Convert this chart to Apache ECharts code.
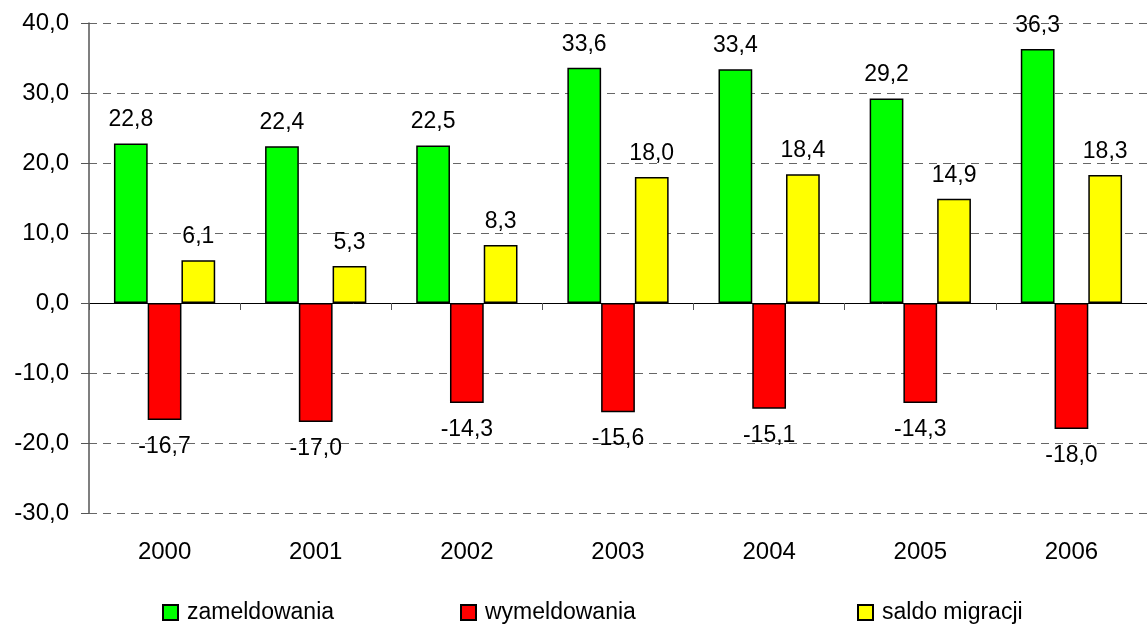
<!DOCTYPE html>
<html>
<head>
<meta charset="utf-8">
<script src="https://cdn.jsdelivr.net/npm/echarts@6/dist/echarts.min.js"></script>
<style>html,body{margin:0;padding:0;background:#fff;}#c{width:1147px;height:628px;}</style>
</head>
<body>
<div id="c"></div>
<script>
var years = ['2000','2001','2002','2003','2004','2005','2006'];
var zameldowania = [22.8, 22.4, 22.5, 33.6, 33.4, 29.2, 36.3];
var wymeldowania = [-16.7, -17.0, -14.3, -15.6, -15.1, -14.3, -18.0];
var saldo = [6.1, 5.3, 8.3, 18.0, 18.4, 14.9, 18.3];
var seriesNames = ['zameldowania', 'wymeldowania', 'saldo migracji'];
var colors = ['#00FF00', '#FF0000', '#FFFF00'];

var FONT = 'Liberation Sans, Arial, sans-serif';
function fmt(v){ return v.toFixed(1).replace('.', ','); }

var chart = echarts.init(document.getElementById('c'), null, {renderer:'canvas'});
function mkSeries(name, data, color, pos, dist){
  return {
    name: name, type: 'bar', data: data, xAxisIndex: 0,
    barGap: '0%', barCategoryGap: '33%',
    itemStyle: {color: color, borderColor: '#000', borderWidth: 1.5},
    label: {show: true, position: pos, distance: dist, color: '#000', fontFamily: FONT, fontSize: 23,
      formatter: function(p){ return fmt(p.value); }},
    emphasis: {disabled: true}
  };
}
function mkLegend(i, left){
  return {
    data: [seriesNames[i]], left: left, top: 601, padding: 0,
    icon: 'rect', itemWidth: 15, itemHeight: 15,
    textStyle: {fontFamily: FONT, fontSize: 23, color: '#000', padding: [0,0,0,4]},
    selectedMode: false
  };
}
chart.setOption({
  animation: false,
  backgroundColor: '#fff',
  grid: {left: 89, top: 23, width: 1066, height: 490, containLabel: false},
  legend: [mkLegend(0, 162), mkLegend(1, 460), mkLegend(2, 857)],
  xAxis: [
    {type: 'category', data: years, position: 'bottom',
     axisLine: {show: false, onZero: false}, axisTick: {show: false},
     axisLabel: {fontFamily: FONT, fontSize: 24, color: '#000', margin: 27},
     splitLine: {show: false}},
    {type: 'category', data: years, position: 'bottom',
     axisLine: {show: true, onZero: true, lineStyle: {color: '#000', width: 1}},
     axisTick: {show: true, length: 7, inside: false, lineStyle: {color: '#555'}},
     axisLabel: {show: false}, splitLine: {show: false}}
  ],
  yAxis: {
    type: 'value', min: -30, max: 40, interval: 10,
    axisLine: {show: true, lineStyle: {color: '#555', width: 1.5}},
    axisTick: {show: true, length: 8, lineStyle: {color: '#555'}},
    axisLabel: {fontFamily: FONT, fontSize: 24, color: '#000', margin: 20, formatter: fmt},
    splitLine: {show: true, lineStyle: {color: '#666', type: [8, 6], width: 1}}
  },
  series: [
    mkSeries(seriesNames[0], zameldowania, colors[0], 'top', 12),
    mkSeries(seriesNames[1], wymeldowania, colors[1], 'bottom', 15),
    mkSeries(seriesNames[2], saldo, colors[2], 'top', 12)
  ]
});
</script>
</body>
</html>
